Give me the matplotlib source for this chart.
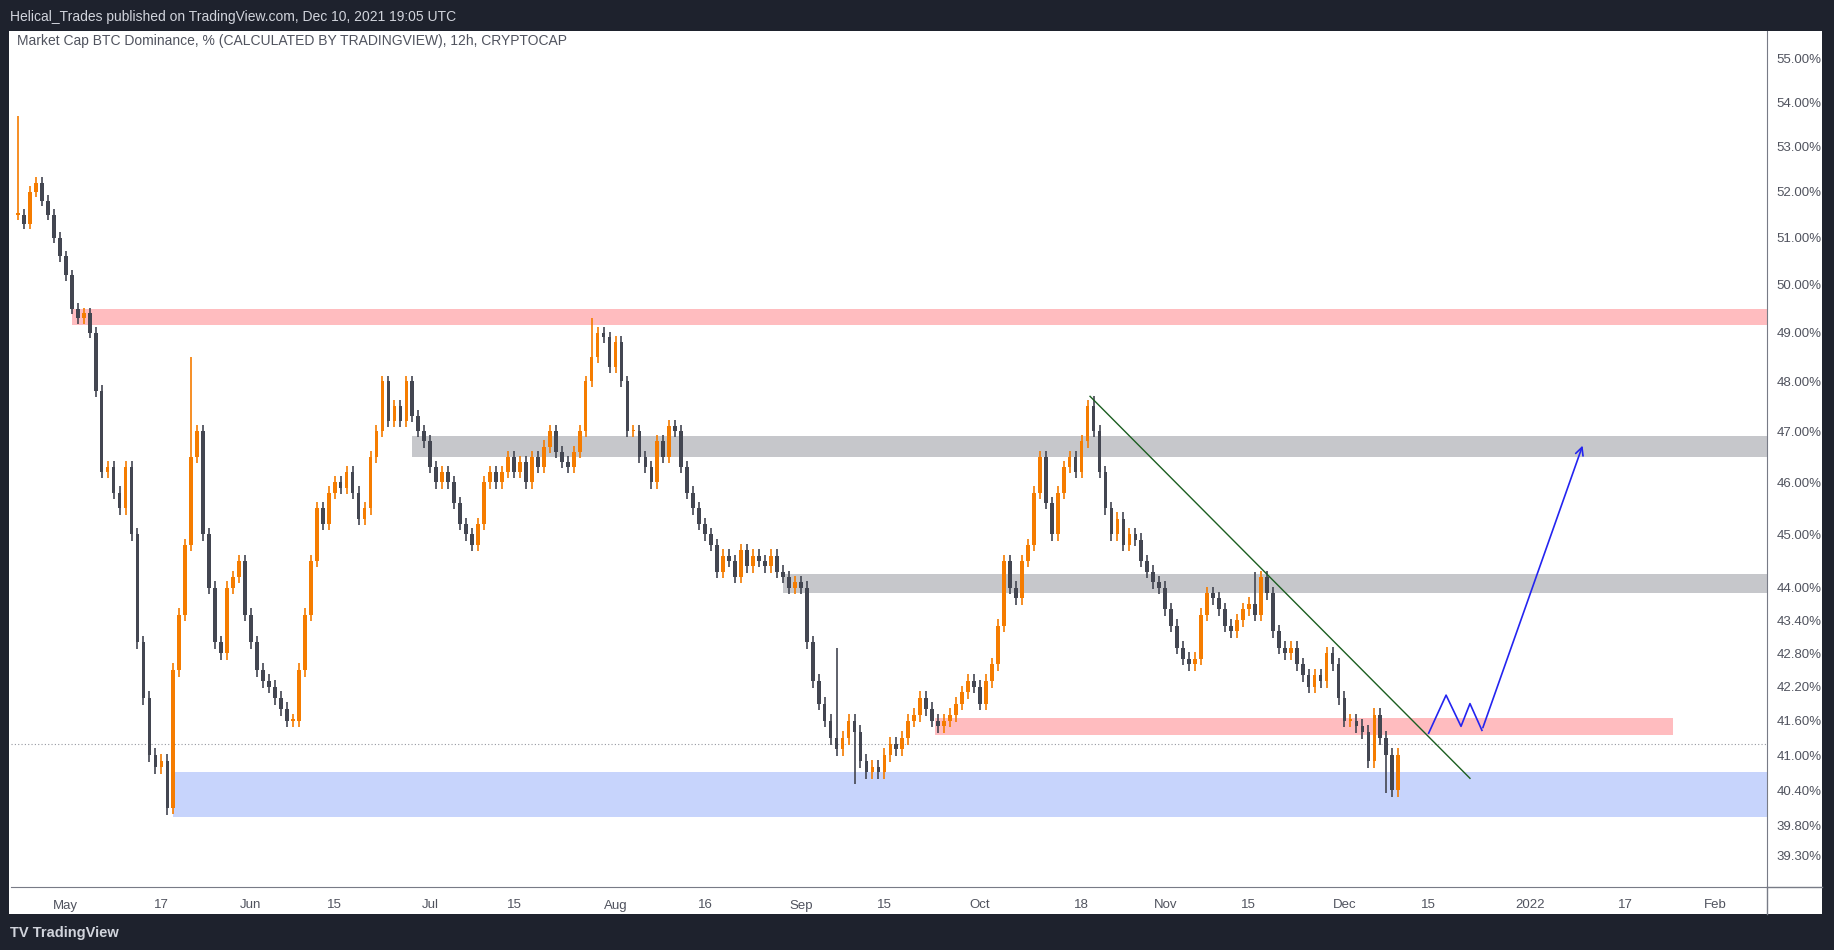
import numpy as np
import pandas as pd
import matplotlib
matplotlib.use("Agg")
import matplotlib.pyplot as plt
import matplotlib.dates as mdates
from matplotlib.lines import Line2D
from matplotlib.patches import Rectangle

# daily closes (ending Dec 10, 2021)
closes = [
    51.5, 51.3, 52.0, 52.2, 51.8, 51.5, 51.0, 50.6, 50.2, 49.5, 49.3, 49.4, 49.0,
    47.8, 46.2, 46.3, 45.8, 45.5, 46.3, 45.0, 43.0, 42.0, 41.0, 40.8, 40.9, 40.1,
    42.5, 43.5, 44.8, 46.5, 47.0, 45.0, 44.0, 43.0, 42.8, 44.0, 44.2, 44.5, 43.5,
    43.0, 42.5, 42.3, 42.2, 42.0, 41.8, 41.6, 41.6, 42.5, 43.5, 44.5, 45.5, 45.2,
    45.8, 46.0, 45.9, 46.2, 45.8, 45.3, 45.5, 46.5, 47.0, 48.0, 47.2, 47.5, 47.2,
    48.0, 47.3, 47.0, 46.8, 46.3, 46.0, 46.2, 46.0, 45.6, 45.2, 45.0, 44.8, 45.2,
    46.0, 46.2, 46.0, 46.2, 46.5, 46.2, 46.4, 46.0, 46.5, 46.3, 46.7, 47.0, 46.6,
    46.4, 46.3, 46.6, 47.0, 48.0, 48.5, 49.0, 48.9, 48.3, 48.8, 48.0, 47.0, 47.0,
    46.5, 46.3, 46.0, 46.8, 46.5, 47.1, 47.0, 46.3, 45.8, 45.5, 45.2, 45.0, 44.8,
    44.3, 44.6, 44.5, 44.2, 44.7, 44.4, 44.6, 44.5, 44.4, 44.6, 44.3, 44.2, 44.0,
    44.1, 44.0, 43.0, 42.3, 41.9, 41.6, 41.3, 41.1, 41.3, 41.6, 41.4, 40.9, 40.7,
    40.8, 40.7, 41.0, 41.2, 41.1, 41.3, 41.6, 41.7, 42.0, 41.8, 41.6,
    41.5, 41.6, 41.7, 41.9, 42.1, 42.3, 42.2, 41.9, 42.3, 42.6, 43.3,
    44.5, 44.0, 43.8, 44.5, 44.8, 45.8, 46.5, 45.6, 45.0, 45.8, 46.3, 46.5, 46.2,
    46.8, 47.5, 47.0, 46.2, 45.5, 45.0, 45.3, 44.8, 45.0, 44.9, 44.5, 44.3, 44.1,
    44.0, 43.6, 43.3, 42.9, 42.7, 42.6, 42.7, 43.5, 43.9, 43.8, 43.6, 43.3, 43.2,
    43.4, 43.6, 43.7, 43.5, 44.2, 43.9, 43.2, 42.9, 42.8, 42.9, 42.6, 42.4, 42.2,
    42.4, 42.3, 42.8, 42.6, 42.0, 41.6, 41.6, 41.5, 41.4, 40.9, 41.7, 41.3, 41.0,
    40.4, 41.0,
]
# a few long wicks (date -> high / low)
wick_highs = {"2021-04-23": 53.7, "2021-05-22": 48.5, "2021-07-28": 49.3,
              "2021-09-07": 42.9, "2021-10-20": 47.7, "2021-11-16": 44.3}
wick_lows = {"2021-05-19": 40.0, "2021-09-10": 40.5, "2021-12-08": 40.35}

tick_values = [55, 54, 53, 52, 51, 50, 49, 48, 47, 46, 45, 44, 43.4, 42.8, 42.2, 41.6, 41, 40.4, 39.8, 39.3]
x_tick_dates = ["2021-05-01", "2021-05-17", "2021-06-01", "2021-06-15", "2021-07-01", "2021-07-15",
                "2021-08-01", "2021-08-16", "2021-09-01", "2021-09-15", "2021-10-01", "2021-10-18",
                "2021-11-01", "2021-11-15", "2021-12-01", "2021-12-15", "2022-01-01", "2022-01-17",
                "2022-02-01"]
x_tick_labels = ["May", "17", "Jun", "15", "Jul", "15", "Aug", "16", "Sep", "15", "Oct", "18",
                 "Nov", "15", "Dec", "15", "2022", "17", "Feb"]

# zones: (start, end, low, high, colour)
zones = [
    ("2021-05-02", "2022-02-15", 49.15, 49.5, "#ffbcbf"),
    ("2021-06-28", "2022-02-15", 46.5, 46.9, "#c6c7cb"),
    ("2021-08-29", "2022-02-15", 43.9, 44.25, "#c6c7cb"),
    ("2021-09-23 12:00", "2022-01-25", 41.35, 41.65, "#ffbcbf"),
    ("2021-05-19", "2022-02-15", 39.95, 40.7, "#c7d4fc"),
]
trend_dates = ["2021-10-19 10:00", "2021-12-22"]
trend_values = [47.7, 40.6]
path_dates = ["2021-12-15 02:00", "2021-12-18", "2021-12-20 12:00", "2021-12-22", "2021-12-24", "2022-01-10"]
path_values = [41.38, 42.05, 41.5, 41.9, 41.43, 46.77]
last_price = 41.2

FONT = "Liberation Sans"
W, H = 1834, 950
fig = plt.figure(figsize=(W / 100, H / 100), dpi=100, facecolor="#1e222d")
fig.patches.append(Rectangle((9 / W, 1 - 914 / H), (1822 - 9) / W, (914 - 31) / H,
                             transform=fig.transFigure, facecolor="white", edgecolor="none", zorder=-5))
ax = fig.add_axes([11 / W, 1 - 887 / H, (1767 - 11) / W, (887 - 31) / H])
ax.set_zorder(2)
ax.set_facecolor("white")

dates = pd.date_range(end="2021-12-10", periods=len(closes), freq="D")
c = np.array(closes)
o = np.r_[c[0], c[:-1]]
hi = np.maximum(o, c) + 0.12
lo = np.minimum(o, c) - 0.12
for d, v in wick_highs.items():
    hi[dates == pd.Timestamp(d)] = v
for d, v in wick_lows.items():
    lo[dates == pd.Timestamp(d)] = v
up = c >= o
cols = np.where(up, "#f57c00", "#434651")
x = mdates.date2num(dates)
ax.vlines(x, lo, hi, colors=cols, lw=1.2, zorder=3)
body_lo = np.minimum(o, c)
body_h = np.maximum(np.abs(c - o), 0.03)
ax.bar(x, body_h, bottom=body_lo, width=0.62, color=cols, zorder=4)

for s, e, zl, zh, col in zones:
    ax.fill_between([mdates.datestr2num(s), mdates.datestr2num(e)], zl, zh, color=col, lw=0, zorder=1)

ax.axhline(last_price, color="#9598a1", lw=0.8, ls=(0, (1, 2)), zorder=2)
ax.plot(mdates.datestr2num(trend_dates), trend_values, color="#1b5e20", lw=1.0, zorder=5)
px = mdates.datestr2num(path_dates)
ax.plot(px[:-1], path_values[:-1], color="#2424f0", lw=1.2, zorder=5)
ax.annotate("", xy=(px[-1], path_values[-1]), xytext=(px[-2], path_values[-2]),
            arrowprops=dict(arrowstyle="->", color="#2424f0", lw=1.2, mutation_scale=14), zorder=5)

ax.set_yscale("log")
ax.set_ylim(38.78, 55.65)
ax.set_xlim(mdates.datestr2num("2021-04-21 20:00"), mdates.datestr2num("2022-02-09 17:00"))
ax.yaxis.tick_right()
ax.set_yticks(tick_values)
ax.set_yticklabels([f"{v:.2f}%" for v in tick_values])
ax.yaxis.set_minor_locator(matplotlib.ticker.NullLocator())
ax.set_xticks(mdates.datestr2num(x_tick_dates))
ax.set_xticklabels(x_tick_labels)
ax.tick_params(axis="both", length=0, colors="#50535e")
ax.tick_params(axis="y", pad=7)
ax.tick_params(axis="x", pad=9)
for lab in ax.get_xticklabels() + ax.get_yticklabels():
    lab.set_fontfamily(FONT)
    lab.set_fontsize(9.5)
for sp in ["top", "left"]:
    ax.spines[sp].set_visible(False)
ax.spines["right"].set_color("#787b86")
ax.spines["bottom"].set_color("#787b86")

fig.lines.append(Line2D([1767 / W, 1822 / W], [1 - 887 / H] * 2, transform=fig.transFigure, color="#787b86", lw=1))
fig.lines.append(Line2D([1767 / W] * 2, [1 - 887 / H, 1 - 914 / H], transform=fig.transFigure, color="#787b86", lw=1))

fig.text(10 / W, 1 - 17 / H, "Helical_Trades published on TradingView.com, Dec 10, 2021 19:05 UTC",
         color="#d1d4dc", fontsize=10, family=FONT, va="center")
fig.text(17 / W, 1 - 41 / H, "Market Cap BTC Dominance, % (CALCULATED BY TRADINGVIEW), 12h, CRYPTOCAP",
         color="#50535e", fontsize=10, family=FONT, va="center", zorder=10)
fig.text(10 / W, 1 - 933 / H, "TV TradingView", color="#d1d4dc", fontsize=10.5,
         family=FONT, va="center", weight="bold")

fig.savefig("out.png", dpi=100, facecolor=fig.get_facecolor())
